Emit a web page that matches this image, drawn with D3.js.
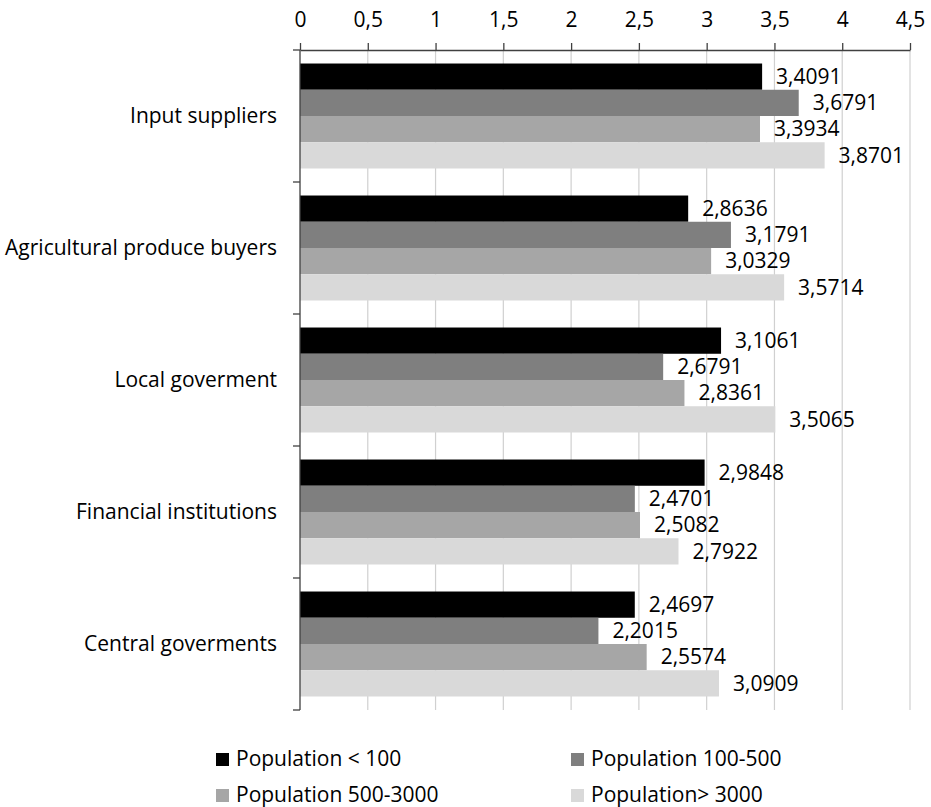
<!DOCTYPE html>
<html>
<head>
<meta charset="utf-8">
<script src="https://cdn.jsdelivr.net/npm/d3@7"></script>
<style>
  html, body { margin: 0; padding: 0; background: #fff; }
  svg { display: block; }
  text { font-family: "Open Sans", Lato, sans-serif; fill: #000; }
</style>
</head>
<body>
<svg id="chart" width="931" height="807"></svg>
<script>
// Stakeholder ratings by settlement size
const categories = [
  "Input suppliers",
  "Agricultural produce buyers",
  "Local goverment",
  "Financial institutions",
  "Central goverments"
];
const seriesNames = [
  "Population < 100",
  "Population 100-500",
  "Population 500-3000",
  "Population> 3000"
];
const popUnder100   = [3.4091, 2.8636, 3.1061, 2.9848, 2.4697];
const pop100to500   = [3.6791, 3.1791, 2.6791, 2.4701, 2.2015];
const pop500to3000  = [3.3934, 3.0329, 2.8361, 2.5082, 2.5574];
const popOver3000   = [3.8701, 3.5714, 3.5065, 2.7922, 3.0909];
const xTicks = [0, 0.5, 1, 1.5, 2, 2.5, 3, 3.5, 4, 4.5];

const seriesValues = [popUnder100, pop100to500, pop500to3000, popOver3000];
const colors = ["#000000", "#7f7f7f", "#a6a6a6", "#d9d9d9"];

const locale = d3.formatLocale({ decimal: ",", thousands: ".", grouping: [3], currency: ["", ""] });
const tickFmt = v => locale.format("~g")(v);
const valFmt = locale.format(".4f");

const svg = d3.select("#chart");
const FS = 21;
const FONT = "'Open Sans', Lato, sans-serif";

const x = d3.scaleLinear().domain([0, 4.5]).range([300, 910]);
const y = d3.scaleBand().domain(categories).range([50, 710]).padding(0);
const ySub = d3.scaleBand().domain(seriesNames).range([0, y.bandwidth()])
  .paddingInner(0).paddingOuter(0.515);

// vertical gridlines
svg.append("g")
  .selectAll("line")
  .data(xTicks.filter(t => t > 0))
  .join("line")
  .attr("x1", d => x(d)).attr("x2", d => x(d))
  .attr("y1", 50).attr("y2", 710)
  .attr("stroke", "#d0d0d0")
  .attr("stroke-width", 1.2);

// bars
const rows = [];
categories.forEach((c, i) => {
  seriesNames.forEach((s, j) => {
    rows.push({ cat: c, series: s, value: seriesValues[j][i], color: colors[j] });
  });
});

svg.append("g")
  .selectAll("rect")
  .data(rows)
  .join("rect")
  .attr("x", x(0))
  .attr("y", d => y(d.cat) + ySub(d.series))
  .attr("width", d => x(d.value) - x(0))
  .attr("height", ySub.bandwidth())
  .attr("fill", d => d.color);

// value labels
svg.append("g")
  .selectAll("text")
  .data(rows)
  .join("text")
  .attr("x", d => x(d.value) + 14)
  .attr("y", d => y(d.cat) + ySub(d.series) + ySub.bandwidth() / 2 + FS * 0.35)
  .attr("font-size", FS)
  .text(d => valFmt(d.value));

// top value axis
const xAxis = d3.axisTop(x)
  .tickValues(xTicks)
  .tickFormat(tickFmt)
  .tickSizeInner(7)
  .tickSizeOuter(0)
  .tickPadding(16);

const gx = svg.append("g")
  .attr("transform", "translate(0,50)")
  .call(xAxis);
gx.select(".domain").attr("stroke", "#404040").attr("stroke-width", 1.3);
gx.selectAll(".tick line").attr("stroke", "#404040").attr("stroke-width", 1.3);
gx.selectAll(".tick text")
  .attr("font-size", FS)
  .attr("font-family", FONT)
  .attr("fill", "#000");

// left category axis: line, boundary ticks and centred labels
const gy = svg.append("g");
gy.append("line")
  .attr("x1", x(0)).attr("x2", x(0))
  .attr("y1", y.range()[0]).attr("y2", y.range()[1])
  .attr("stroke", "#404040").attr("stroke-width", 1.3);

const boundaries = categories.map(c => y(c)).concat([y.range()[1]]);
gy.selectAll("line.tick")
  .data(boundaries)
  .join("line")
  .attr("class", "tick")
  .attr("x1", x(0) - 7).attr("x2", x(0))
  .attr("y1", d => d).attr("y2", d => d)
  .attr("stroke", "#404040").attr("stroke-width", 1.3);

gy.selectAll("text")
  .data(categories)
  .join("text")
  .attr("x", x(0) - 23)
  .attr("y", d => y(d) + y.bandwidth() / 2 + FS * 0.35)
  .attr("text-anchor", "end")
  .attr("font-size", FS)
  .text(d => d);

// legend
const legendPos = [
  { x: 216, y: 753 },
  { x: 571, y: 753 },
  { x: 216, y: 789 },
  { x: 571, y: 789 }
];
const legend = svg.append("g")
  .selectAll("g")
  .data(seriesNames)
  .join("g")
  .attr("transform", (d, i) => `translate(${legendPos[i].x},${legendPos[i].y})`);

legend.append("rect")
  .attr("width", 13).attr("height", 13)
  .attr("fill", (d, i) => colors[i]);

legend.append("text")
  .attr("x", 20)
  .attr("y", 13)
  .attr("font-size", FS)
  .text(d => d);
</script>
</body>
</html>
